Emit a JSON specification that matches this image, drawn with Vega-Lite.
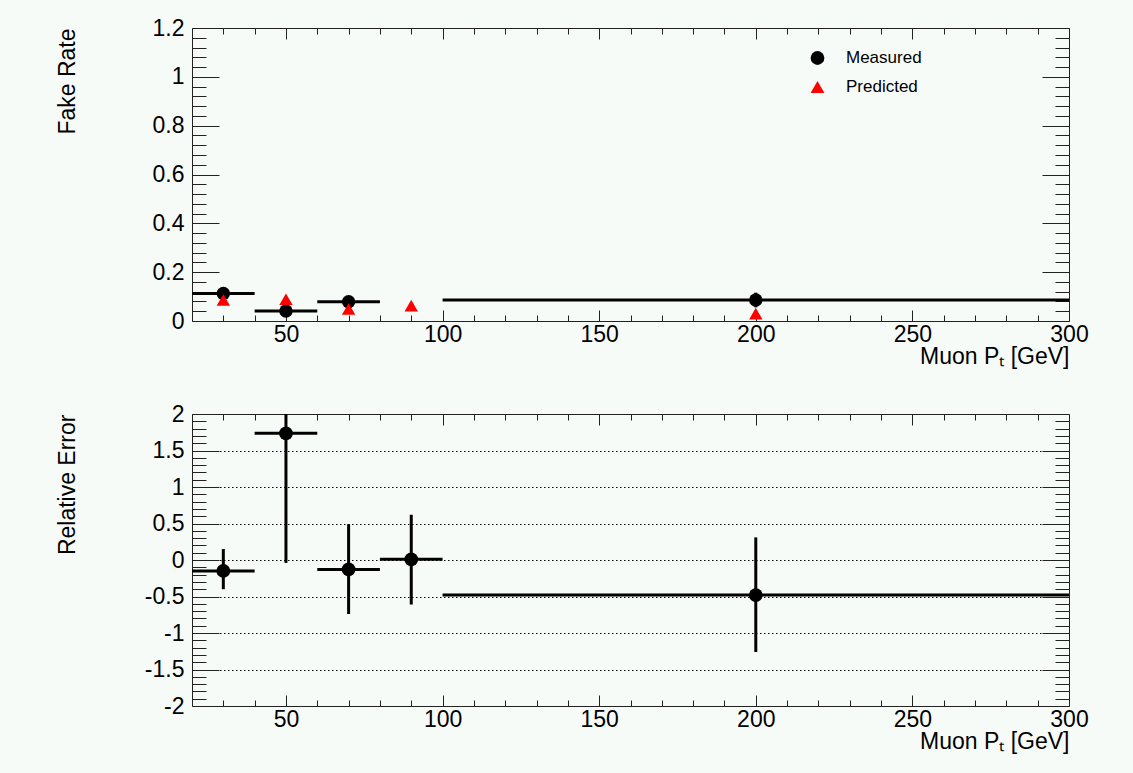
{
  "$schema": "https://vega.github.io/schema/vega-lite/v6.json",
  "background": "#f7fbf8",
  "padding": {"left": 55, "top": 16, "right": 45, "bottom": 20},
  "datasets": {
    "fakeRate": [
      {"pt": 30, "ptLow": 20, "ptHigh": 40, "series": "Measured", "rate": 0.113, "rateLow": 0.105, "rateHigh": 0.121},
      {"pt": 50, "ptLow": 40, "ptHigh": 60, "series": "Measured", "rate": 0.041, "rateLow": 0.036, "rateHigh": 0.046},
      {"pt": 70, "ptLow": 60, "ptHigh": 80, "series": "Measured", "rate": 0.079, "rateLow": 0.072, "rateHigh": 0.086},
      {"pt": 200, "ptLow": 100, "ptHigh": 300, "series": "Measured", "rate": 0.086, "rateLow": 0.056, "rateHigh": 0.116},
      {"pt": 30, "series": "Predicted", "rate": 0.086},
      {"pt": 50, "series": "Predicted", "rate": 0.089},
      {"pt": 70, "series": "Predicted", "rate": 0.049},
      {"pt": 90, "series": "Predicted", "rate": 0.063},
      {"pt": 200, "series": "Predicted", "rate": 0.03}
    ],
    "relError": [
      {"pt": 30, "ptLow": 20, "ptHigh": 40, "err": -0.15, "errLow": -0.4, "errHigh": 0.15},
      {"pt": 50, "ptLow": 40, "ptHigh": 60, "err": 1.735, "errLow": -0.04, "errHigh": 3.51},
      {"pt": 70, "ptLow": 60, "ptHigh": 80, "err": -0.13, "errLow": -0.74, "errHigh": 0.49},
      {"pt": 90, "ptLow": 80, "ptHigh": 100, "err": 0.01, "errLow": -0.61, "errHigh": 0.62},
      {"pt": 200, "ptLow": 100, "ptHigh": 300, "err": -0.48, "errLow": -1.26, "errHigh": 0.31}
    ]
  },
  "spacing": 93,
  "bounds": "flush",
  "vconcat": [
    {
      "width": 877,
      "height": 293,
      "data": {"name": "fakeRate"},
      "resolve": {"axis": {"x": "independent", "y": "independent"}},
      "layer": [
        {
          "transform": [{"filter": "datum.series === 'Measured'"}],
          "mark": {"type": "rule", "strokeWidth": 3, "color": "#000"},
          "encoding": {
            "x": {
              "field": "ptLow", "type": "quantitative",
              "scale": {"domain": [20, 300], "nice": false, "zero": false},
              "axis": {
                "orient": "bottom", "values": [50, 100, 150, 200, 250, 300],
                "tickSize": -11, "labelPadding": 13,
                "labelExpr": "'' + datum.value",
                "title": "Muon Pₜ [GeV]",
                "titleAlign": "right", "titleBaseline": "alphabetic",
                "titleX": 877, "titleY": 42
              }
            },
            "x2": {"field": "ptHigh"},
            "y": {
              "field": "rate", "type": "quantitative",
              "scale": {"domain": [0, 1.2], "nice": false, "zero": false},
              "axis": {
                "orient": "left", "values": [0, 0.2, 0.4, 0.6, 0.8, 1, 1.2],
                "tickSize": -27, "labelPadding": 35,
                "labelExpr": "'' + datum.value",
                "title": "Fake Rate",
                "titleAngle": -90, "titleAlign": "right", "titleBaseline": "alphabetic",
                "titleX": -118, "titleY": 0
              }
            }
          }
        },
        {
          "transform": [{"filter": "datum.series === 'Measured'"}],
          "mark": {"type": "rule", "strokeWidth": 3, "color": "#000"},
          "encoding": {
            "x": {
              "field": "pt", "type": "quantitative",
              "scale": {"domain": [20, 300], "nice": false, "zero": false},
              "axis": {
                "orient": "bottom",
                "values": [30,40,60,70,80,90,110,120,130,140,160,170,180,190,210,220,230,240,260,270,280,290],
                "tickSize": -6, "labels": false, "title": null
              }
            },
            "y": {
              "field": "rateLow", "type": "quantitative",
              "scale": {"domain": [0, 1.2], "nice": false, "zero": false},
              "axis": {
                "orient": "left",
                "values": [0.04,0.08,0.12,0.16,0.24,0.28,0.32,0.36,0.44,0.48,0.52,0.56,0.64,0.68,0.72,0.76,0.84,0.88,0.92,0.96,1.04,1.08,1.12,1.16],
                "tickSize": -14, "labels": false, "title": null
              }
            },
            "y2": {"field": "rateHigh"}
          }
        },
        {
          "transform": [{"filter": "datum.series === 'Measured'"}],
          "mark": {"type": "point", "filled": true, "opacity": 1, "size": 180},
          "encoding": {
            "x": {
              "field": "pt", "type": "quantitative",
              "scale": {"domain": [20, 300], "nice": false, "zero": false},
              "axis": {"orient": "top", "values": [50, 100, 150, 200, 250, 300], "tickSize": -11, "labels": false, "title": null}
            },
            "y": {
              "field": "rate", "type": "quantitative",
              "scale": {"domain": [0, 1.2], "nice": false, "zero": false},
              "axis": {"orient": "right", "values": [0, 0.2, 0.4, 0.6, 0.8, 1, 1.2], "tickSize": -27, "labels": false, "title": null}
            },
            "color": {
              "field": "series", "type": "nominal",
              "scale": {"domain": ["Measured", "Predicted"], "range": ["#000000", "#ff0000"]},
              "legend": {"title": null}
            },
            "shape": {
              "field": "series", "type": "nominal",
              "scale": {"domain": ["Measured", "Predicted"], "range": ["circle", "triangle-up"]},
              "legend": {"title": null}
            }
          }
        },
        {
          "transform": [{"filter": "datum.series === 'Predicted'"}],
          "mark": {"type": "point", "filled": true, "opacity": 1, "size": 180},
          "encoding": {
            "x": {
              "field": "pt", "type": "quantitative",
              "scale": {"domain": [20, 300], "nice": false, "zero": false},
              "axis": {
                "orient": "top",
                "values": [30,40,60,70,80,90,110,120,130,140,160,170,180,190,210,220,230,240,260,270,280,290],
                "tickSize": -6, "labels": false, "title": null
              }
            },
            "y": {
              "field": "rate", "type": "quantitative",
              "scale": {"domain": [0, 1.2], "nice": false, "zero": false},
              "axis": {
                "orient": "right",
                "values": [0.04,0.08,0.12,0.16,0.24,0.28,0.32,0.36,0.44,0.48,0.52,0.56,0.64,0.68,0.72,0.76,0.84,0.88,0.92,0.96,1.04,1.08,1.12,1.16],
                "tickSize": -14, "labels": false, "title": null
              }
            },
            "color": {
              "field": "series", "type": "nominal",
              "scale": {"domain": ["Measured", "Predicted"], "range": ["#000000", "#ff0000"]},
              "legend": {"title": null}
            },
            "shape": {
              "field": "series", "type": "nominal",
              "scale": {"domain": ["Measured", "Predicted"], "range": ["circle", "triangle-up"]},
              "legend": {"title": null}
            }
          }
        }
      ]
    },
    {
      "width": 877,
      "height": 292,
      "data": {"name": "relError"},
      "resolve": {"axis": {"x": "independent", "y": "independent"}},
      "layer": [
        {
          "mark": {"type": "rule", "strokeWidth": 3, "color": "#000"},
          "encoding": {
            "x": {
              "field": "ptLow", "type": "quantitative",
              "scale": {"domain": [20, 300], "nice": false, "zero": false},
              "axis": {
                "orient": "bottom", "values": [50, 100, 150, 200, 250, 300],
                "tickSize": -11, "labelPadding": 13,
                "labelExpr": "'' + datum.value",
                "title": "Muon Pₜ [GeV]",
                "titleAlign": "right", "titleBaseline": "alphabetic",
                "titleX": 877, "titleY": 42
              }
            },
            "x2": {"field": "ptHigh"},
            "y": {
              "field": "err", "type": "quantitative",
              "scale": {"domain": [-2, 2], "nice": false, "zero": false},
              "axis": {
                "orient": "left", "values": [-2, -1.5, -1, -0.5, 0, 0.5, 1, 1.5, 2],
                "tickSize": -27, "labelPadding": 35,
                "labelExpr": "'' + datum.value",
                "title": "Relative Error",
                "titleAngle": -90, "titleAlign": "right", "titleBaseline": "alphabetic",
                "titleX": -118, "titleY": 0
              }
            }
          }
        },
        {
          "mark": {"type": "rule", "strokeWidth": 3, "color": "#000"},
          "encoding": {
            "x": {
              "field": "pt", "type": "quantitative",
              "scale": {"domain": [20, 300], "nice": false, "zero": false},
              "axis": {
                "orient": "bottom",
                "values": [30,40,60,70,80,90,110,120,130,140,160,170,180,190,210,220,230,240,260,270,280,290],
                "tickSize": -6, "labels": false, "title": null
              }
            },
            "y": {
              "field": "errLow", "type": "quantitative",
              "scale": {"domain": [-2, 2], "nice": false, "zero": false},
              "axis": {
                "orient": "left",
                "values": [-1.9,-1.8,-1.7,-1.6,-1.4,-1.3,-1.2,-1.1,-0.9,-0.8,-0.7,-0.6,-0.4,-0.3,-0.2,-0.1,0.1,0.2,0.3,0.4,0.6,0.7,0.8,0.9,1.1,1.2,1.3,1.4,1.6,1.7,1.8,1.9],
                "tickSize": -14, "labels": false, "title": null
              }
            },
            "y2": {"field": "err"}
          }
        },
        {
          "mark": {"type": "rule", "strokeWidth": 3, "color": "#000", "clip": true},
          "encoding": {
            "x": {
              "field": "pt", "type": "quantitative",
              "scale": {"domain": [20, 300], "nice": false, "zero": false},
              "axis": {"orient": "top", "values": [50, 100, 150, 200, 250, 300], "tickSize": -11, "labels": false, "title": null}
            },
            "y": {
              "field": "err", "type": "quantitative",
              "scale": {"domain": [-2, 2], "nice": false, "zero": false},
              "axis": {
                "orient": "right", "values": [-1.5, -1, -0.5, 0, 0.5, 1, 1.5],
                "tickSize": -27, "labels": false, "title": null,
                "grid": true, "gridColor": "#000", "gridWidth": 1, "gridDash": [1.5, 2.5]
              }
            },
            "y2": {"field": "errHigh"}
          }
        },
        {
          "mark": {"type": "point", "filled": true, "opacity": 1, "size": 190, "color": "#000"},
          "encoding": {
            "x": {
              "field": "pt", "type": "quantitative",
              "scale": {"domain": [20, 300], "nice": false, "zero": false},
              "axis": {
                "orient": "top",
                "values": [30,40,60,70,80,90,110,120,130,140,160,170,180,190,210,220,230,240,260,270,280,290],
                "tickSize": -6, "labels": false, "title": null
              }
            },
            "y": {
              "field": "err", "type": "quantitative",
              "scale": {"domain": [-2, 2], "nice": false, "zero": false},
              "axis": {
                "orient": "right",
                "values": [-1.9,-1.8,-1.7,-1.6,-1.4,-1.3,-1.2,-1.1,-0.9,-0.8,-0.7,-0.6,-0.4,-0.3,-0.2,-0.1,0.1,0.2,0.3,0.4,0.6,0.7,0.8,0.9,1.1,1.2,1.3,1.4,1.6,1.7,1.8,1.9],
                "tickSize": -14, "labels": false, "title": null
              }
            }
          }
        }
      ]
    }
  ],
  "config": {
    "view": {"stroke": "#222", "strokeWidth": 1},
    "axis": {
      "labelFont": "Liberation Sans", "labelFontSize": 23, "labelColor": "#000",
      "titleFont": "Liberation Sans", "titleFontSize": 23, "titleColor": "#000", "titleFontWeight": "normal",
      "domain": false, "grid": false, "tickColor": "#222", "tickWidth": 1,
      "labelOverlap": false, "labelFlush": false, "labelBound": false
    },
    "legend": {
      "orient": "none", "legendX": 617, "legendY": 21.5,
      "labelFont": "Liberation Sans", "labelFontSize": 17, "labelColor": "#000",
      "labelOffset": 20, "rowPadding": 11, "padding": 0, "symbolSize": 190,
      "symbolStrokeWidth": 0, "labelBaseline": "middle"
    }
  }
}
